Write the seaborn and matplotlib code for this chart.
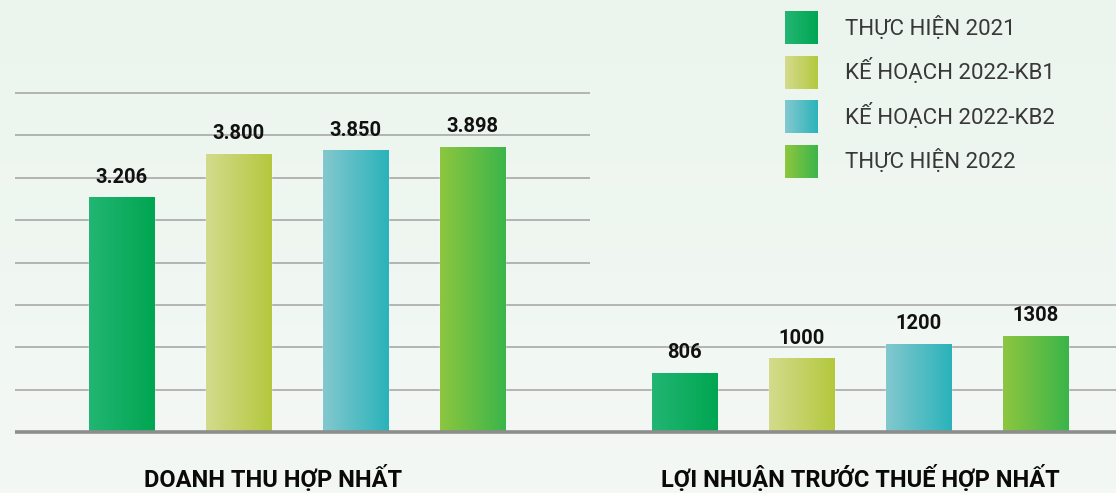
'''
REVENUE / PROFIT BARS 2021-2022
'''
import numpy as np
import pandas as pd
import seaborn as sns
import matplotlib
matplotlib.use('Agg')
import matplotlib.pyplot as plt
from matplotlib.colors import LinearSegmentedColormap, to_rgb
from matplotlib.patches import Patch, Rectangle
from matplotlib.legend_handler import HandlerBase
from matplotlib.transforms import ScaledTranslation

''' DATA (ty dong) '''
metrics = ['DOANH THU HỢP NHẤT', 'LỢI NHUẬN TRƯỚC THUẾ HỢP NHẤT']
series = ['THỰC HIỆN 2021', 'KẾ HOẠCH 2022-KB1', 'KẾ HOẠCH 2022-KB2', 'THỰC HIỆN 2022']
revenue = [3206, 3800, 3850, 3898]
profit = [806, 1000, 1200, 1308]

# gradient colours per series, left -> right
grad_left = ['#22b573', '#d3db8c', '#82c8ce', '#8dc63f']
grad_right = ['#00a651', '#b4c83e', '#2bb3ba', '#3bb54a']


class GradHandler(HandlerBase):
    # legend square drawn as thin slices so it gets the same gradient
    def __init__(self, c0, c1, n=30):
        super().__init__()
        self.c0 = np.array(to_rgb(c0))
        self.c1 = np.array(to_rgb(c1))
        self.n = n

    def create_artists(self, legend, orig_handle, xdescent, ydescent,
                       width, height, fontsize, trans):
        arts = []
        for i in range(self.n):
            t = i / (self.n - 1)
            col = self.c0 * (1 - t) + self.c1 * t
            arts.append(Rectangle((-xdescent + i * width / self.n, -ydescent),
                                  width / self.n * 1.1, height, facecolor=col,
                                  edgecolor='none', transform=trans))
        return arts


def fmt(v, dotted):
    return f'{v:,}'.replace(',', '.') if dotted else str(v)


def chart():
    sns.set_theme(style='white')
    plt.rcParams['font.family'] = ['Roboto', 'DejaVu Sans']

    fig = plt.figure(figsize=(11.16, 4.93), dpi=100)

    # soft green background
    bg = fig.add_axes([0, 0, 1, 1], zorder=0)
    bg_cmap = LinearSegmentedColormap.from_list('bg', ['#f4f8f5', '#ebf5ed'])
    bg.imshow(np.linspace(0, 1, 100)[:, None], cmap=bg_cmap, aspect='auto',
              extent=(0, 1, 0, 1), origin='lower')
    bg.axis('off')

    # axes bottom sits on the baseline
    ax = fig.add_axes([0, 61 / 493, 1, 432 / 493], zorder=1)
    ax.set_facecolor('none')

    df = pd.DataFrame({
        'metric': np.repeat(metrics, len(series)),
        'series': series * len(metrics),
        'value': revenue + profit,
    })

    sns.barplot(data=df, x='metric', y='value', hue='series', hue_order=series,
                palette=grad_right, saturation=1, width=0.831, gap=0.44,
                errorbar=None, legend=False, ax=ax, zorder=2)

    # gradient fill on each bar + value labels
    for j, cont in enumerate(ax.containers):
        cmap = LinearSegmentedColormap.from_list(f's{j}', [grad_left[j], grad_right[j]])
        for bar in cont:
            x, y = bar.get_xy()
            w, h = bar.get_width(), bar.get_height()
            ax.imshow(np.linspace(0, 1, 64)[None, :], cmap=cmap, aspect='auto',
                      extent=(x, x + w, y, y + h), zorder=3, interpolation='bilinear')
        labs = [fmt(v, m == 0) for m, v in enumerate(cont.datavalues.astype(int))]
        ax.bar_label(cont, labels=labs, padding=8, fontsize=14.5, fontweight='bold',
                     color='#111111', zorder=5)

    # scale: ~42.4 px per grid step of 580
    step = 580
    xmin, xmax = -0.5275, 1.4547
    ax.set_xlim(xmin, xmax)
    ax.set_ylim(0, 5913)
    ax.hlines([step * k for k in range(4, 9)], -0.5, 0.52, color='#a2a2a2', lw=1.1, zorder=1)
    ax.hlines([step * k for k in range(1, 4)], -0.5, xmax, color='#a2a2a2', lw=1.1, zorder=1)
    ax.hlines(0, -0.5, xmax, color='#8d8d8d', lw=2.6, zorder=4, clip_on=False)

    for s in ax.spines.values():
        s.set_visible(False)
    ax.set_yticks([])
    ax.set_xlabel('')
    ax.set_ylabel('')
    ax.set_xticks([0, 1])
    ax.set_xticklabels(metrics, fontsize=17, fontweight='bold', color='#0a0a0a')
    ax.tick_params(axis='x', length=0, pad=24)
    first = ax.get_xticklabels()[0]
    first.set_transform(first.get_transform() + ScaledTranslation(-0.24, 0, fig.dpi_scale_trans))

    handles = [Patch(facecolor=c) for c in grad_right]
    hmap = {h: GradHandler(grad_left[i], grad_right[i]) for i, h in enumerate(handles)}
    leg = ax.legend(handles, series, handler_map=hmap, loc='upper left',
                    bbox_to_anchor=(785 / 1116, 1 - 11 / 493), bbox_transform=fig.transFigure,
                    frameon=False, prop={'size': 16},
                    handlelength=1.485, handleheight=1.908, labelspacing=0.52,
                    handletextpad=1.22, borderpad=0, borderaxespad=0)
    plt.setp(leg.get_texts(), color='#383838')

    fig.savefig('out.png', dpi=100)


chart()
